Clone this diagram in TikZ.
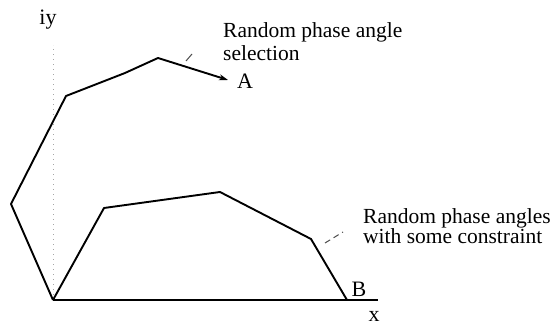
\documentclass[tikz,border=0pt]{standalone}
\usepackage{fontspec}
\setmainfont{Liberation Serif}
\usetikzlibrary{arrows.meta}

\begin{document}
\begin{tikzpicture}[
    x=1pt, y=-1pt,
    walk/.style={line width=1.9pt, line join=round},
    axisline/.style={line width=1.5pt},
    guide/.style={dash pattern=on 1pt off 4pt, gray!70, line width=0.7pt},
    leader/.style={gray!60!black, line width=1pt, dash pattern=on 6pt off 4pt},
    lbl/.style={font=\fontsize{22}{23}\selectfont, inner sep=0pt},
    note/.style={font=\fontsize{21.5}{23}\selectfont, inner sep=0pt, align=left, anchor=north west}
]
    \useasboundingbox (0,0) rectangle (557,328);

    % origin and axes
    \coordinate (o) at (53,300);
    \coordinate (xend) at (378,300);
    \coordinate (ytop) at (53,45);
    \draw[guide] (o) -- (ytop);
    \draw[axisline] (o) -- (xend);
    \node[lbl] (iy) at (48,20) {iy};
    \node[lbl] (xl) at (374,316) {x};

    % unconstrained random walk ending at A
    \coordinate (p1) at (11,204);
    \coordinate (p2) at (66,96);
    \coordinate (p3) at (125,73);
    \coordinate (p4) at (158,58);
    \coordinate (pa) at (228,80);
    \draw[walk, -{Stealth[length=9pt, width=6pt]}] (o) -- (p1) -- (p2) -- (p3) -- (p4) -- (pa);
    \node[lbl] (a) at (245,81) {A};

    % constrained random walk ending at B
    \coordinate (q1) at (104,208);
    \coordinate (q2) at (220,192);
    \coordinate (q3) at (311,239);
    \coordinate (qb) at (347,300);
    \draw[walk] (o) -- (q1) -- (q2) -- (q3) -- (qb);
    \node[lbl] (b) at (359,289) {B};

    % labels with short leaders
    \node[note] (upnote) at (223,22) {Random phase angle\\selection};
    \node[note, font=\fontsize{21.5}{19}\selectfont] (lownote) at (363,208) {Random phase angles\\with some constraint};
    \coordinate (u1) at (186,61);
    \coordinate (u2) at (192,54);
    \draw[leader, solid] (u1) -- (u2);
    \coordinate (l1) at (325,243);
    \coordinate (l2) at (343,232);
    \draw[leader] (l1) -- (l2);
\end{tikzpicture}
\end{document}
